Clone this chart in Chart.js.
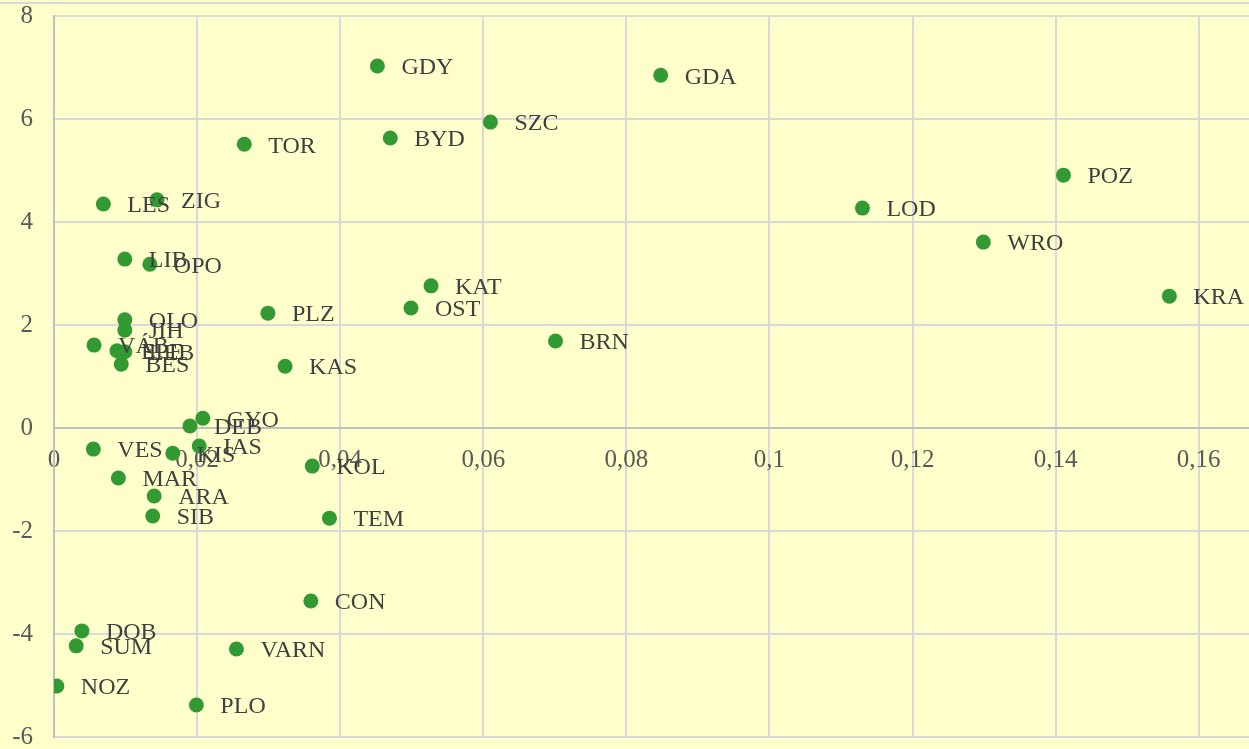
<!DOCTYPE html>
<html>
<head>
<meta charset="utf-8">
<script src="https://cdn.jsdelivr.net/npm/chart.js@4.4.1/dist/chart.umd.min.js"></script>
<style>
  html, body { margin: 0; padding: 0; background: #ffffcc; overflow: hidden; }
  #wrap { width: 1249px; height: 749px; overflow: hidden; }
  canvas { display: block; }
</style>
</head>
<body>
<div id="wrap"><canvas id="chart" width="1249" height="749"></canvas></div>
<script>
// city codes and the two measures
var cities = ['GDY', 'GDA', 'SZC', 'BYD', 'TOR', 'POZ', 'ZIG', 'LES', 'LOD', 'WRO',
    'LIB', 'OPO', 'KAT', 'KRA', 'OST', 'PLZ', 'OLO', 'JIH', 'VÁB', 'EPE',
    'LEB', 'BES', 'KAS', 'BRN', 'GYO', 'DEB', 'IAS', 'KIS', 'VES', 'KOL',
    'MAR', 'ARA', 'SIB', 'TEM', 'CON', 'DOB', 'SUM', 'VARN', 'NOZ', 'PLO'];
var xValues = [0.0452, 0.0848, 0.0610, 0.0470, 0.0266, 0.1411, 0.0144, 0.0069, 0.1130, 0.1299,
    0.0099, 0.0134, 0.0527, 0.1559, 0.0499, 0.0299, 0.0099, 0.0099, 0.0056, 0.0088,
    0.0099, 0.0094, 0.0323, 0.0701, 0.0208, 0.0190, 0.0203, 0.0166, 0.0055, 0.0361,
    0.0090, 0.0140, 0.0138, 0.0385, 0.0359, 0.0039, 0.0031, 0.0255, 0.0004, 0.0199];
var yValues = [7.03, 6.85, 5.94, 5.63, 5.51, 4.91, 4.43, 4.35, 4.27, 3.61,
    3.28, 3.18, 2.76, 2.56, 2.33, 2.23, 2.10, 1.90, 1.61, 1.50,
    1.48, 1.24, 1.20, 1.69, 0.19, 0.04, -0.35, -0.49, -0.41, -0.74,
    -0.97, -1.32, -1.71, -1.75, -3.36, -3.94, -4.23, -4.29, -5.01, -5.38];

var xTicks = [0, 0.02, 0.04, 0.06, 0.08, 0.1, 0.12, 0.14, 0.16];
var yTicks = [-6, -4, -2, 0, 2, 4, 6, 8];

var points = xValues.map(function(x, i) {
    return { x: x, y: yValues[i] };
});

var serif = "'Liberation Serif', 'Times New Roman', serif";
var pageW = 1249;

// yellow background + the thin strip at the very top
var backgroundPlugin = {
    id: 'background',
    beforeDraw: function(chart) {
        var ctx = chart.ctx;
        ctx.save();
        ctx.fillStyle = '#ffffcc';
        ctx.fillRect(0, 0, chart.width, chart.height);
        ctx.strokeStyle = '#d9d9d9';
        ctx.lineWidth = 2;
        ctx.beginPath();
        ctx.moveTo(0, 3);
        ctx.lineTo(chart.width, 3);
        ctx.stroke();
        ctx.restore();
    }
};

// text label to the right of every point
var pointLabels = {
    id: 'pointLabels',
    afterDatasetsDraw: function(chart) {
        var ctx = chart.ctx;
        var meta = chart.getDatasetMeta(0);
        ctx.save();
        ctx.font = '24px ' + serif;
        ctx.fillStyle = '#404040';
        ctx.textAlign = 'left';
        ctx.textBaseline = 'middle';
        meta.data.forEach(function(pt, i) {
            ctx.fillText(cities[i], pt.x + 24, pt.y + 2);
        });
        ctx.restore();
    }
};

function commaNum(v) {
    return String(Math.round(v * 1000) / 1000).replace('.', ',');
}

// no extra room for overhanging tick labels
function noPad(axis) {
    axis.paddingTop = 0;
    axis.paddingBottom = 0;
    axis.paddingLeft = 0;
    axis.paddingRight = 0;
}

function makeChart(canvas) {
    return new Chart(canvas.getContext('2d'), {
        type: 'scatter',
        data: {
            datasets: [{
                data: points,
                backgroundColor: '#339933',
                borderColor: '#339933',
                pointRadius: 7.5,
                pointHoverRadius: 7.5,
                borderWidth: 0
            }]
        },
        options: {
            responsive: false,
            animation: false,
            layout: { padding: { top: 16, right: 0, bottom: 12, left: 0 } },
            plugins: {
                legend: { display: false },
                tooltip: { enabled: false }
            },
            scales: {
                x: {
                    type: 'linear',
                    position: { y: 0 },
                    min: 0,
                    max: 0.1671,
                    afterBuildTicks: function(axis) {
                        axis.ticks = xTicks.map(function(v) { return { value: v }; });
                    },
                    afterFit: noPad,
                    grid: { color: '#d9d9d9', lineWidth: 2, drawTicks: false },
                    border: { color: '#bfbfbf', width: 2 },
                    ticks: {
                        padding: 17,
                        color: '#595959',
                        font: { family: serif, size: 25 },
                        maxRotation: 0,
                        callback: function(v) { return commaNum(v); }
                    }
                },
                y: {
                    type: 'linear',
                    min: -6,
                    max: 8,
                    afterBuildTicks: function(axis) {
                        axis.ticks = yTicks.map(function(v) { return { value: v }; });
                    },
                    afterFit: function(axis) {
                        axis.width = 54;
                        noPad(axis);
                    },
                    grid: { color: '#d9d9d9', lineWidth: 2, drawTicks: false },
                    border: { color: '#bfbfbf', width: 2 },
                    ticks: {
                        padding: 21,
                        color: '#595959',
                        font: { family: serif, size: 25 },
                        callback: function(v) { return commaNum(v); }
                    }
                }
            }
        },
        plugins: [backgroundPlugin, pointLabels]
    });
}

var canvas = document.getElementById('chart');
var chart = makeChart(canvas);

// the layout keeps a few px free on the right; make the canvas that much
// wider (the wrapper hides the overflow) so the plot runs to the page edge
var gap = Math.round(pageW - chart.chartArea.right);
if (gap > 0) {
    chart.destroy();
    canvas.width = pageW + gap;
    canvas.height = 749;
    canvas.style.width = (pageW + gap) + 'px';
    canvas.style.height = '749px';
    chart = makeChart(canvas);
}
</script>
</body>
</html>
